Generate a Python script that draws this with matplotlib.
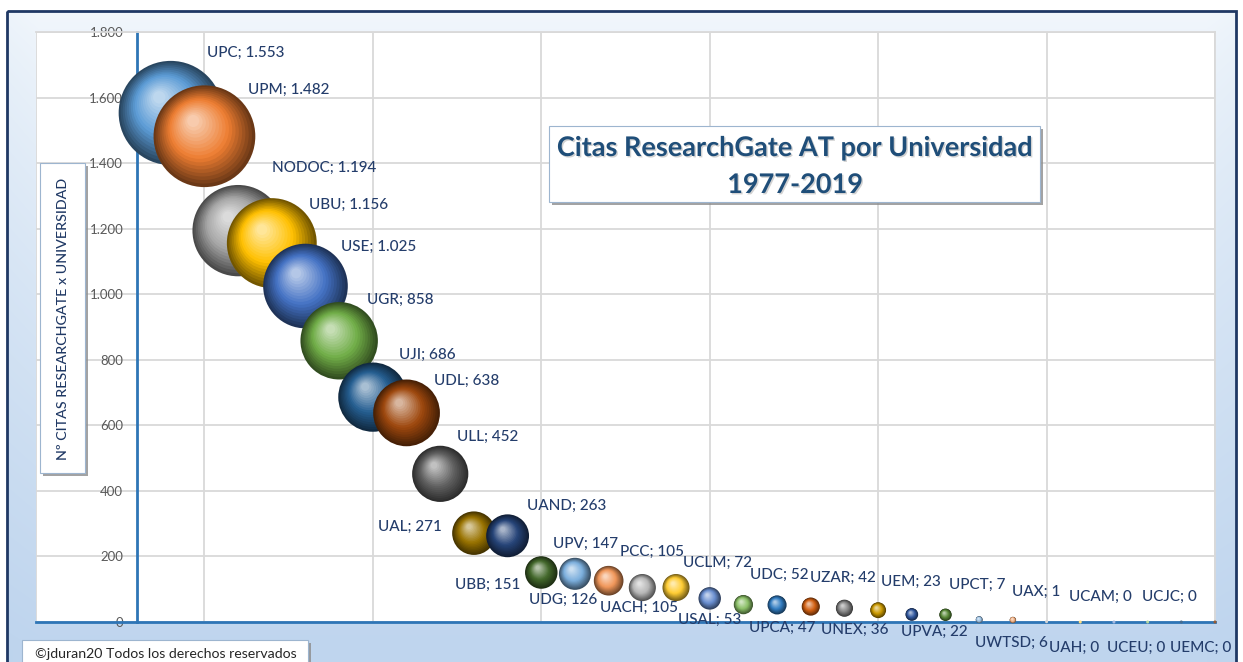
import numpy as np
import matplotlib
matplotlib.use("Agg")
import matplotlib.pyplot as plt
from matplotlib.transforms import offset_copy
from matplotlib.patches import Rectangle
from matplotlib.ticker import FuncFormatter, FixedLocator
import matplotlib.patheffects as pe
from matplotlib.colors import to_rgb

# ---------------- data ----------------
universities = ["UPC", "UPM", "NODOC", "UBU", "USE", "UGR", "UJI", "UDL", "ULL", "UAL",
                "UAND", "UBB", "UPV", "UDG", "PCC", "UACH", "UCLM", "USAL", "UDC", "UPCA",
                "UZAR", "UNEX", "UEM", "UPVA", "UPCT", "UWTSD", "UAX", "UAH", "UCAM", "UCEU",
                "UCJC", "UEMC"]
citations = [1553, 1482, 1194, 1156, 1025, 858, 686, 638, 452, 271,
             263, 151, 147, 126, 105, 105, 72, 53, 52, 47,
             42, 36, 23, 22, 7, 6, 1, 0, 0, 0,
             0, 0]
positions = list(range(1, len(universities) + 1))
y_ticks = [0, 200, 400, 600, 800, 1000, 1200, 1400, 1600, 1800]
title_lines = ["Citas ResearchGate AT por Universidad", "1977-2019"]
y_title = "Nº CITAS RESEARCHGATE x UNIVERSIDAD"
copyright_text = "©jduran20 Todos los derechos reservados"

# ---------------- styles ----------------
palette = ["#5B9BD5", "#ED7D31", "#A5A5A5", "#FFC000", "#4472C4", "#70AD47",
           "#255E91", "#9E480E", "#636363", "#997300", "#264478", "#43682B",
           "#7CAFDD", "#F1975A", "#B7B7B7", "#FFCD33", "#698ED0", "#8CC168",
           "#327DC2", "#D26012", "#848484", "#CC9A00", "#335AA1", "#5A8A39",
           "#9DC3E6", "#F4B183", "#C9C9C9", "#FFD966", "#8FAADC", "#A9D18E",
           "#1F4E79", "#843C0C"]
# label offsets in pixels relative to bubble centre (dx, dy, ha)
label_offsets = [(36, 60, "left"), (44, 46, "left"), (34, 63, "left"), (37, 38, "left"),
                 (36, 39, "left"), (28, 41, "left"), (26, 42, "left"), (27, 32, "left"),
                 (17, 37, "left"), (-32, 6, "right"), (19, 30, "left"), (-21, -12, "right"),
                 (-22, 30, "left"), (-80, -19, "left"), (-22, 36, "left"), (-76, -20, "left"),
                 (-27, 36, "left"), (-65, -15, "left"), (-27, 30, "left"), (-62, -21, "left"),
                 (-34, 30, "left"), (-57, -20, "left"), (-31, 33, "left"), (-45, -17, "left"),
                 (-30, 35, "left"), (-38, -23, "left"), (-35, 30, "left"), (-31, -26, "left"),
                 (-45, 25, "left"), (-41, -26, "left"), (-39, 25, "left"), (-45, -26, "left")]
FONT = ["Lato", "DejaVu Sans"]
plt.rcParams["font.family"] = FONT
LABEL_COLOR = "#243D6B"
MAX_DIAM_PT = 75.0

W, H = 1243, 662
fig = plt.figure(figsize=(W / 100, H / 100), dpi=100)

# ---------------- background ----------------
bg = fig.add_axes([0, 0, 1, 1], zorder=-10)
bg.set_xlim(0, W)
bg.set_ylim(H, 0)
bg.axis("off")
yy, xx = np.mgrid[0:H, 0:W]
top_c = np.array(to_rgb("#F2F7FC"))
bot_c = np.array(to_rgb("#BFD5EE"))
ty = np.clip((yy - 10) / 640.0, 0, 1) ** 0.8
img = top_c[None, None, :] * (1 - ty[..., None]) + bot_c[None, None, :] * ty[..., None]
edge = np.clip(1 - (xx - 8) / 30.0, 0, 1) * 0.35 + np.clip(1 - (1236 - xx) / 30.0, 0, 1) * 0.3
img = img * (1 - edge[..., None] * 0.15) + np.array(to_rgb("#A9C7E8"))[None, None, :] * (edge[..., None] * 0.15)
outside = (xx < 7) | (xx > 1236) | (yy < 11)
img[outside] = 1.0
bg.imshow(img, extent=[0, W, H, 0], aspect="auto", interpolation="bilinear")
bg.add_patch(Rectangle((7, 11), 1229, 700, facecolor="none", edgecolor="#1F3864", lw=2.0))

# ---------------- main axes ----------------
ax = fig.add_axes([36 / W, 40 / H, 1179 / W, 590 / H])
ax.set_facecolor("white")
ax.set_xlim(-3, 32)
ax.set_ylim(0, 1800)
ax.xaxis.set_major_locator(FixedLocator(np.arange(-3, 33, 5)))
ax.yaxis.set_major_locator(FixedLocator(y_ticks))
ax.grid(True, color="#D9D9D9", lw=1.3, zorder=0)
ax.set_axisbelow(True)
ax.tick_params(axis="x", length=0, labelbottom=False)
ax.tick_params(axis="y", length=0, pad=10, labelsize=9.5, labelcolor="#595959")
ax.yaxis.set_major_formatter(FuncFormatter(lambda v, p: f"{int(v):,}".replace(",", ".")))
for lab in ax.get_yticklabels():
    lab.set_path_effects([pe.withStroke(linewidth=3, foreground="white")])
ax.spines["left"].set_position(("data", 0))
ax.spines["left"].set_color("#2E75B6")
ax.spines["left"].set_linewidth(2.0)
ax.spines["bottom"].set_color("#2E75B6")
ax.spines["bottom"].set_linewidth(2.0)
ax.spines["bottom"].set_zorder(2.6)
for s in ("top", "right"):
    ax.spines[s].set_color("#D9D9D9")
    ax.spines[s].set_linewidth(1.3)


def shade(base, t):
    base = np.array(to_rgb(base))
    dark = base * 0.45
    light = base + (1 - base) * 0.6
    if t < 0.45:
        u = t / 0.45
        return dark * (1 - u) + base * u
    u = (t - 0.45) / 0.55
    return base * (1 - u) + light * u


max_c = max(citations)
N_LAYERS = 18
for i, (x, v, col) in enumerate(zip(positions, citations, palette)):
    diam = MAX_DIAM_PT * np.sqrt(v / max_c)
    z = 10 + i
    if diam < 4:
        ax.scatter([x], [v], s=max(diam, 2.2) ** 2, color=shade(col, 0.6), zorder=z,
                   edgecolors="none", clip_on=False)
        continue
    r = diam / 2.0
    for k in range(N_LAYERS):
        t = k / (N_LAYERS - 1)
        f = 1 - 0.88 * t
        ox, oy = -0.22 * r * t, 0.3 * r * t
        tr = offset_copy(ax.transData, fig=fig, x=ox, y=oy, units="points")
        ax.scatter([x], [v], s=(diam * f) ** 2, color=shade(col, t), transform=tr,
                   zorder=z + k / 100.0, edgecolors="none", clip_on=False)

for x, v, name, (dx, dy, ha) in zip(positions, citations, universities, label_offsets):
    txt = f"{name}; " + f"{v:,}".replace(",", ".")
    ax.annotate(txt, (x, v), xytext=(dx, dy), textcoords="offset pixels",
                ha=ha, va="center", fontsize=11, fontweight="medium", color=LABEL_COLOR,
                zorder=200, annotation_clip=False)

# ---------------- overlay boxes ----------------
ov = fig.add_axes([0, 0, 1, 1], zorder=5)
ov.set_xlim(0, W)
ov.set_ylim(H, 0)
ov.axis("off")


def box(x0, y0, x1, y1):
    ov.add_patch(Rectangle((x0 + 3, y0 + 3), x1 - x0, y1 - y0, facecolor="#8C8C8C",
                           edgecolor="none", alpha=0.8))
    ov.add_patch(Rectangle((x0, y0), x1 - x0, y1 - y0, facecolor="white",
                           edgecolor="#9DB5CF", lw=0.8))


shadow = [pe.withSimplePatchShadow(offset=(1, -1), shadow_rgbFace="#7F7F7F", alpha=0.35)]
box(549, 126, 1040, 202)
ov.text(795, 148, title_lines[0], ha="center", va="center", fontsize=19.5,
        fontweight="bold", color="#1F4E79", path_effects=shadow)
ov.text(795, 185, title_lines[1], ha="center", va="center", fontsize=19.5,
        fontweight="bold", color="#1F4E79", path_effects=shadow)

box(40, 163, 85, 473)
ov.text(63, 319, y_title, ha="center", va="center", rotation=90, fontsize=10.3,
        fontweight="medium", color="#1F3864")

box(22, 640, 308, 690)
ov.text(166, 654, copyright_text, ha="center", va="center", fontsize=10.2, color="#262626")

fig.savefig("out.png", dpi=100)
